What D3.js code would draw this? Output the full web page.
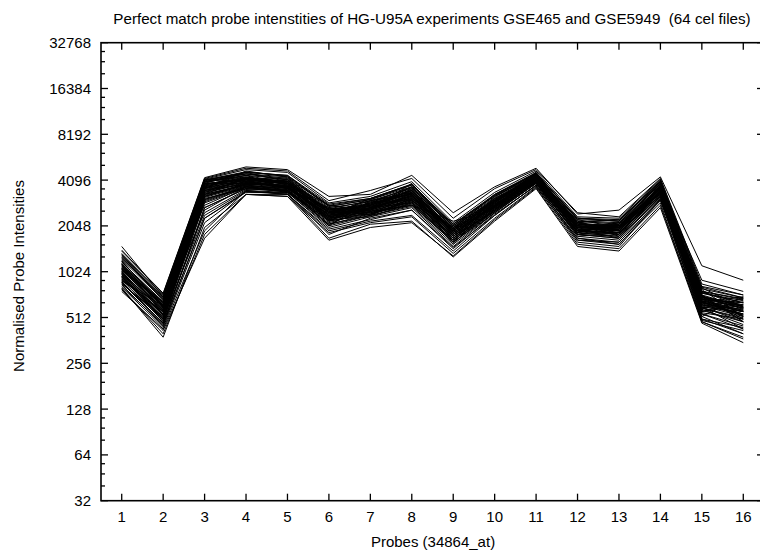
<!DOCTYPE html>
<html>
<head>
<meta charset="utf-8">
<script src="https://cdn.jsdelivr.net/npm/d3@7"></script>
<style>
  body { margin: 0; background: #fff; }
  svg { display: block; font-family: "Liberation Sans", Arial, sans-serif; }
</style>
</head>
<body>
<svg width="760" height="550"></svg>
<script>
// probe positions along the x axis
let probes = d3.range(1, 17);

// y axis labels (log base 2)
let yTicks = [32, 64, 128, 256, 512, 1024, 2048, 4096, 8192, 16384, 32768];

// normalised intensities, one row per cel file (64 files), one value per probe
let intensities = [
    [1150, 600, 3700, 4200, 3700, 2300, 2900, 3300, 1800, 2900, 4300, 2050, 1900, 3600, 650, 560],
    [900, 560, 3900, 3900, 3800, 2600, 2500, 3000, 1950, 2700, 4100, 1850, 2100, 3300, 560, 650],
    [1500, 700, 2800, 3700, 3500, 2100, 2700, 2900, 1700, 2600, 4000, 2200, 1800, 3900, 720, 480],
    [850, 520, 4100, 4500, 4200, 2800, 2600, 3600, 2050, 3000, 4500, 1950, 1700, 3500, 800, 600],
    [1050, 640, 3300, 3800, 4000, 2400, 3100, 3800, 1600, 3200, 4400, 2100, 2000, 3700, 520, 700],
    [760, 430, 1900, 3500, 3300, 1900, 2200, 2400, 1400, 2400, 3800, 1700, 1550, 3000, 600, 430],
    [1250, 700, 4000, 4400, 3900, 2200, 2800, 3500, 1850, 2800, 4200, 2300, 2200, 4100, 680, 520],
    [950, 480, 3500, 4100, 3600, 2700, 2400, 3100, 2000, 3100, 4300, 1800, 2050, 3200, 700, 580],
    [1320, 660, 3600, 4700, 4300, 2500, 3000, 3400, 1750, 2900, 4600, 2000, 1900, 3800, 900, 760],
    [820, 460, 2300, 3400, 3400, 2000, 2350, 2700, 1500, 2500, 3900, 1650, 1600, 3100, 490, 420],
    [1080, 580, 3800, 4300, 3800, 2350, 2650, 3200, 1900, 2750, 4250, 2150, 2000, 3550, 620, 540],
    [1200, 620, 4150, 4000, 4100, 2600, 2900, 3700, 2100, 3300, 4500, 1950, 2150, 3900, 750, 640],
    [920, 540, 3100, 3600, 3500, 2150, 2550, 2800, 1650, 2650, 3950, 1900, 1800, 3400, 580, 460],
    [1000, 570, 3400, 4200, 3900, 2450, 2700, 3300, 1800, 2800, 4200, 2100, 2050, 3600, 640, 620],
    [1400, 740, 4250, 5000, 4800, 3200, 3300, 4400, 2500, 3700, 4900, 2450, 2600, 4300, 1120, 900],
    [800, 380, 2000, 3300, 3300, 1700, 2100, 2200, 1280, 2200, 3600, 1500, 1400, 2700, 470, 350],
    [1120, 620, 3900, 4100, 4000, 2550, 2800, 3500, 1950, 3000, 4350, 2000, 1950, 3750, 680, 590],
    [980, 500, 3200, 3900, 3700, 2300, 2450, 3000, 1700, 2700, 4050, 2050, 1850, 3450, 550, 500],
    [1060, 600, 3600, 4000, 3600, 2450, 2750, 3350, 1850, 2850, 4250, 1900, 2000, 3600, 700, 610],
    [880, 470, 2600, 3700, 3400, 2250, 2350, 2900, 1600, 2600, 3950, 1800, 1750, 3250, 600, 480],
    [1180, 650, 4000, 4500, 4100, 2650, 3000, 3600, 2000, 3050, 4400, 2200, 2100, 3850, 760, 670],
    [1020, 540, 3300, 3850, 3800, 2400, 2600, 3150, 1800, 2750, 4150, 2000, 1950, 3500, 650, 530],
    [1280, 680, 4050, 4600, 4400, 2750, 3050, 3800, 2100, 3200, 4500, 2150, 2250, 4000, 740, 640],
    [860, 500, 2400, 3500, 3400, 2050, 2400, 2750, 1550, 2500, 3900, 1750, 1650, 3200, 500, 440],
    [1100, 610, 3700, 4200, 3900, 2500, 2800, 3400, 1900, 2950, 4300, 2050, 2000, 3700, 720, 600],
    [960, 520, 3150, 3750, 3650, 2300, 2550, 3050, 1750, 2700, 4100, 1900, 1850, 3400, 610, 520],
    [1350, 720, 4150, 4800, 4600, 2900, 3200, 4000, 2150, 3400, 4700, 2350, 2300, 4150, 820, 720],
    [780, 420, 1700, 3300, 3200, 1650, 2000, 2150, 1300, 2250, 3650, 1550, 1450, 2800, 480, 380],
    [1040, 590, 3500, 4000, 3750, 2400, 2700, 3250, 1850, 2800, 4200, 2000, 1950, 3550, 660, 570],
    [930, 500, 2950, 3700, 3500, 2200, 2500, 2950, 1650, 2600, 4000, 1850, 1800, 3350, 590, 510],
    [1160, 600, 3850, 4250, 4000, 2600, 2850, 3500, 1950, 3000, 4400, 2100, 2050, 3750, 700, 620],
    [1230, 670, 3950, 4400, 4150, 2700, 2950, 3650, 2000, 3100, 4450, 2200, 2150, 3850, 760, 680],
    [870, 460, 2700, 3600, 3450, 2100, 2450, 2850, 1600, 2550, 3900, 1800, 1700, 3150, 540, 450],
    [1010, 560, 3350, 3950, 3700, 2350, 2650, 3200, 1800, 2750, 4150, 1950, 1900, 3500, 640, 560],
    [1090, 610, 3650, 4100, 3850, 2500, 2750, 3350, 1900, 2900, 4300, 2050, 2000, 3650, 690, 590],
    [950, 510, 3050, 3750, 3550, 2250, 2550, 3050, 1700, 2650, 4050, 1900, 1850, 3400, 620, 530],
    [1300, 690, 4100, 4650, 4350, 2800, 3100, 3850, 2050, 3250, 4550, 2250, 2200, 4000, 790, 690],
    [810, 440, 2150, 3450, 3300, 1950, 2250, 2600, 1480, 2400, 3800, 1700, 1600, 3050, 520, 400],
    [1130, 620, 3750, 4200, 3950, 2550, 2850, 3450, 1900, 3000, 4350, 2100, 2050, 3700, 710, 600],
    [990, 540, 3250, 3850, 3650, 2350, 2600, 3150, 1750, 2750, 4150, 1950, 1900, 3450, 640, 540],
    [1070, 650, 3500, 3850, 4150, 2200, 2950, 3000, 2000, 2700, 4400, 1850, 2150, 3300, 720, 480],
    [910, 560, 3800, 4400, 3600, 2650, 2400, 3400, 1650, 3100, 4100, 2150, 1750, 3700, 560, 620],
    [1210, 590, 3000, 3700, 3500, 2350, 2700, 3700, 1850, 2850, 4000, 2000, 2100, 3900, 650, 700],
    [1030, 480, 4000, 4300, 3900, 2800, 2500, 2800, 2200, 2600, 4500, 1950, 1800, 3450, 780, 520],
    [890, 610, 2500, 3550, 3750, 2050, 3000, 3300, 1550, 3000, 3900, 1800, 1950, 3350, 600, 560],
    [1140, 540, 3900, 4600, 4000, 2500, 2600, 3900, 1950, 3300, 4600, 2250, 2000, 4000, 540, 430],
    [1420, 730, 4200, 4900, 4700, 3000, 3500, 4200, 2300, 3600, 4800, 2500, 2350, 4200, 850, 720],
    [840, 450, 2300, 3450, 3350, 1800, 2300, 2600, 1450, 2450, 3750, 1600, 1500, 3050, 620, 580],
    [1060, 620, 3550, 4000, 3650, 2450, 2650, 3250, 1800, 2800, 4250, 2050, 2050, 3650, 500, 400],
    [940, 500, 3200, 3800, 3550, 2550, 2450, 2950, 1750, 2550, 4000, 1750, 1850, 3250, 680, 640],
    [1190, 630, 3850, 4150, 4250, 2250, 2900, 3550, 1900, 2950, 4450, 2150, 1900, 3800, 760, 600],
    [1000, 530, 3300, 4250, 3650, 2650, 2750, 3100, 1950, 3050, 4150, 1900, 2050, 3400, 590, 680],
    [790, 400, 1800, 3300, 3200, 1850, 2150, 2350, 1350, 2300, 3700, 1650, 1550, 2900, 480, 370],
    [1260, 680, 4000, 4500, 4300, 2750, 3050, 3700, 2050, 3150, 4550, 2300, 2200, 3950, 740, 660],
    [1080, 570, 3600, 4150, 3850, 2500, 2800, 3350, 1900, 2900, 4300, 2000, 2000, 3600, 700, 500],
    [960, 510, 3050, 3700, 3450, 2300, 2550, 3050, 1700, 2650, 4050, 1900, 1850, 3400, 640, 560],
    [1150, 640, 3750, 4250, 4050, 2600, 2850, 3500, 1950, 3000, 4350, 2100, 2100, 3750, 670, 640],
    [870, 470, 2700, 3600, 3450, 2100, 2400, 2800, 1600, 2500, 3900, 1800, 1700, 3200, 570, 480],
    [1020, 560, 3400, 3900, 3700, 2400, 2650, 3200, 1800, 2800, 4200, 2000, 1950, 3500, 660, 560],
    [1110, 600, 3650, 4100, 3900, 2500, 2800, 3400, 1900, 2950, 4300, 2050, 2000, 3650, 700, 590],
    [980, 530, 3200, 3800, 3600, 2300, 2600, 3100, 1750, 2700, 4100, 1900, 1850, 3450, 630, 540],
    [1330, 700, 4100, 4600, 4400, 2850, 3100, 3850, 2100, 3250, 4550, 2300, 2250, 4050, 810, 690],
    [900, 490, 2900, 3650, 3500, 2200, 2450, 2900, 1650, 2550, 4000, 1850, 1750, 3300, 590, 500],
    [1050, 570, 3450, 3950, 3750, 2400, 2700, 3250, 1850, 2850, 4250, 2000, 1950, 3600, 670, 570]
];

let svg = d3.select('svg');

let plotLeft = 101, plotRight = 764, plotTop = 42.7, plotBottom = 500.7;

let x = d3.scaleLinear()
    .domain([0.5, 16.5])
    .range([plotLeft, plotRight]);

let y = d3.scaleLog()
    .base(2)
    .domain([32, 32768])
    .range([plotBottom, plotTop]);

let line = d3.line()
    .x((d, i) => x(probes[i]))
    .y(d => y(d));

// data lines
svg.append('g')
    .selectAll('path')
    .data(intensities)
    .join('path')
    .attr('d', line)
    .attr('fill', 'none')
    .attr('stroke', '#000')
    .attr('stroke-width', 1);

// minor ticks between each doubling
let minor = [];
yTicks.slice(0, -1).forEach(t => [1.25, 1.5, 1.75].forEach(m => minor.push(t * m)));

let ticks = svg.append('g').attr('stroke', '#000').attr('stroke-width', 1.3);

yTicks.forEach(t => {
    ticks.append('line').attr('x1', plotLeft).attr('x2', plotLeft + 7).attr('y1', y(t)).attr('y2', y(t));
    ticks.append('line').attr('x1', plotRight).attr('x2', plotRight - 7).attr('y1', y(t)).attr('y2', y(t));
});
minor.forEach(t => {
    ticks.append('line').attr('x1', plotLeft).attr('x2', plotLeft + 4).attr('y1', y(t)).attr('y2', y(t));
    ticks.append('line').attr('x1', plotRight).attr('x2', plotRight - 4).attr('y1', y(t)).attr('y2', y(t));
});
probes.forEach(p => {
    ticks.append('line').attr('x1', x(p)).attr('x2', x(p)).attr('y1', plotBottom).attr('y2', plotBottom - 7);
    ticks.append('line').attr('x1', x(p)).attr('x2', x(p)).attr('y1', plotTop).attr('y2', plotTop + 7);
});

// border
svg.append('rect')
    .attr('x', plotLeft).attr('y', plotTop)
    .attr('width', plotRight - plotLeft).attr('height', plotBottom - plotTop)
    .attr('fill', 'none')
    .attr('stroke', '#000')
    .attr('stroke-width', 1.6);

// tick labels
svg.append('g')
    .selectAll('text')
    .data(yTicks)
    .join('text')
    .attr('x', 91)
    .attr('y', d => y(d) + 5.5)
    .attr('text-anchor', 'end')
    .attr('font-size', 15)
    .text(d => d);

svg.append('g')
    .selectAll('text')
    .data(probes)
    .join('text')
    .attr('x', d => x(d))
    .attr('y', 522)
    .attr('text-anchor', 'middle')
    .attr('font-size', 15)
    .text(d => d);

// titles
svg.append('text')
    .attr('x', 432).attr('y', 24)
    .attr('text-anchor', 'middle')
    .attr('font-size', 15.2)
    .style('white-space', 'pre')
    .text('Perfect match probe intenstities of HG-U95A experiments GSE465 and GSE5949  (64 cel files)');

svg.append('text')
    .attr('x', 433).attr('y', 547)
    .attr('text-anchor', 'middle')
    .attr('font-size', 15)
    .text('Probes (34864_at)');

svg.append('text')
    .attr('transform', 'translate(24,276) rotate(-90)')
    .attr('text-anchor', 'middle')
    .attr('font-size', 15)
    .text('Normalised Probe Intensities');
</script>
</body>
</html>
